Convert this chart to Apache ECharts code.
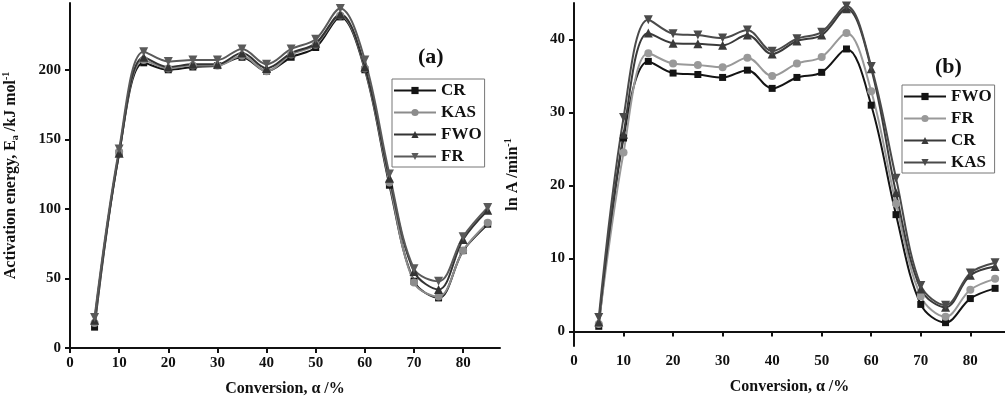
<!DOCTYPE html>
<html>
<head>
<meta charset="utf-8">
<script src="https://cdn.jsdelivr.net/npm/echarts@6/dist/echarts.min.js"></script>
<style>
  * { margin: 0; padding: 0; }
  body { background: #fff; }
  #chart { width: 1005px; height: 402px; }
</style>
</head>
<body>
<div id="chart"></div>
<script>
// conversion (%)
const conversion = [5, 10, 15, 20, 25, 30, 35, 40, 45, 50, 55, 60, 65, 70, 75, 80, 85];

// (a) activation energy, kJ/mol
const eaCR  = [15, 140, 205, 200, 202, 203, 209, 199, 209, 216, 238, 200, 117, 48, 36, 70, 89];
const eaKAS = [18, 141, 207, 201, 203, 203, 210, 199, 211, 218, 239, 201, 119, 47, 37, 70, 90];
const eaFWO = [20, 140, 209, 202, 204, 204, 212, 201, 212, 219, 240, 202, 122, 55, 42, 78, 99];
const eaFR  = [22, 143, 213, 206, 207, 207, 215, 204, 215, 222, 244, 207, 125, 57, 48, 80, 101];

// (b) ln A, min^-1
const lnFWO = [0.7, 26.5, 37.0, 35.4, 35.2, 34.8, 35.8, 33.3, 34.8, 35.5, 38.7, 31.0, 16.0, 3.7, 1.2, 4.5, 5.9];
const lnFR  = [1.0, 24.5, 38.1, 36.7, 36.5, 36.2, 37.5, 35.0, 36.7, 37.6, 40.9, 32.9, 17.5, 4.8, 2.0, 5.7, 7.2];
const lnCR  = [1.3, 27.0, 40.9, 39.5, 39.4, 39.2, 40.6, 38.0, 39.8, 40.6, 44.2, 36.0, 19.0, 5.8, 3.3, 7.7, 8.9];
const lnKAS = [1.9, 29.3, 42.7, 40.8, 40.6, 40.2, 41.3, 38.4, 40.1, 41.0, 44.6, 36.3, 21.0, 6.3, 3.6, 8.0, 9.4];

const xTicks = [0, 10, 20, 30, 40, 50, 60, 70, 80];
const eaTicks = [0, 50, 100, 150, 200];
const lnTicks = [0, 10, 20, 30, 40];

const FONT = 'Liberation Serif';
const INK = '#111';

const pairs = (ys) => conversion.map((x, i) => [x, ys[i]]);

const mkSeries = (name, ys, color, symbol, rotate, size, axis) => ({
    name: name,
    type: 'line',
    data: pairs(ys),
    xAxisIndex: axis,
    yAxisIndex: axis,
    smooth: 0.35,
    symbol: symbol,
    symbolRotate: rotate,
    symbolSize: size,
    lineStyle: { color: color, width: 2 },
    itemStyle: { color: color },
    emphasis: { disabled: true },
    z: 3
});

const axisBase = {
    axisLine: { show: true, lineStyle: { color: INK, width: 2 } },
    splitLine: { show: false },
    axisTick: { show: true, length: 5, lineStyle: { color: INK, width: 2 } },
    axisLabel: { color: INK, fontFamily: FONT, fontWeight: 'bold', fontSize: 15 },
    nameTextStyle: { color: INK, fontFamily: FONT, fontWeight: 'bold', fontSize: 16 }
};

const xAxisFor = (idx, max) => ({
    ...axisBase,
    type: 'value',
    gridIndex: idx,
    min: 0,
    max: max,
    name: 'Conversion, α /%',
    nameLocation: 'middle',
    nameGap: 33,
    axisTick: { ...axisBase.axisTick, customValues: xTicks },
    axisLabel: { ...axisBase.axisLabel, margin: 8, customValues: xTicks }
});

const richName = {
    sub: { fontFamily: FONT, fontWeight: 'bold', fontSize: 10, color: INK, padding: [9, 0, 0, 0] },
    sup: { fontFamily: FONT, fontWeight: 'bold', fontSize: 10, color: INK, padding: [0, 0, 9, 0] }
};

const legendText = { fontFamily: FONT, fontWeight: 'bold', fontSize: 17, color: INK, lineHeight: 19 };

const legendBase = {
    orient: 'vertical',
    itemWidth: 42, itemHeight: 9, itemGap: 3,
    padding: [2, 3, 1, 1],
    borderColor: '#777', borderWidth: 1,
    textStyle: legendText,
    selectedMode: false
};

const chart = echarts.init(document.getElementById('chart'));
const option = {
    backgroundColor: '#ffffff',
    animation: false,
    title: [
        { text: '(a)', left: 418, top: 46, padding: 0,
          textStyle: { fontFamily: FONT, fontWeight: 'bold', fontSize: 22, color: INK } },
        { text: '(b)', left: 935, top: 56, padding: 0,
          textStyle: { fontFamily: FONT, fontWeight: 'bold', fontSize: 22, color: INK } }
    ],
    legend: [
        {
            ...legendBase,
            data: ['CR', 'KAS', 'FWO', 'FR'],
            left: 392, top: 79
        },
        {
            ...legendBase,
            data: ['FWO (b)', 'FR (b)', 'CR (b)', 'KAS (b)'],
            left: 902, top: 85,
            formatter: (name) => name.replace(' (b)', '')
        }
    ],
    grid: [
        { left: 69, top: 3, width: 431, height: 346 },
        { left: 574, top: 3, width: 431, height: 343 }
    ],
    xAxis: [xAxisFor(0, 87.5), xAxisFor(1, 87)],
    yAxis: [
        {
            ...axisBase,
            type: 'value',
            gridIndex: 0,
            min: 0,
            max: 248,
            name: 'Activation energy, E{sub|a} /kJ mol{sup|-1}',
            nameLocation: 'middle',
            nameGap: 50,
            nameTextStyle: { ...axisBase.nameTextStyle, rich: richName },
            axisTick: { ...axisBase.axisTick, customValues: eaTicks },
            axisLabel: { ...axisBase.axisLabel, margin: 9, customValues: eaTicks }
        },
        {
            ...axisBase,
            type: 'value',
            gridIndex: 1,
            min: -2,
            max: 45,
            name: 'ln A /min{sup|-1}',
            nameLocation: 'middle',
            nameGap: 52,
            nameTextStyle: { ...axisBase.nameTextStyle, rich: richName },
            axisTick: { ...axisBase.axisTick, customValues: lnTicks },
            axisLabel: { ...axisBase.axisLabel, margin: 9, customValues: lnTicks }
        }
    ],
    series: [
        mkSeries('CR', eaCR, '#141414', 'rect', 0, 7, 0),
        mkSeries('KAS', eaKAS, '#8c8c8c', 'circle', 0, 8, 0),
        mkSeries('FWO', eaFWO, '#333333', 'triangle', 0, 9, 0),
        mkSeries('FR', eaFR, '#5a5a5a', 'triangle', 180, 9, 0),

        mkSeries('FWO (b)', lnFWO, '#141414', 'rect', 0, 7, 1),
        mkSeries('FR (b)', lnFR, '#999999', 'circle', 0, 8, 1),
        mkSeries('CR (b)', lnCR, '#3a3a3a', 'triangle', 0, 9, 1),
        mkSeries('KAS (b)', lnKAS, '#4a4a4a', 'triangle', 180, 9, 1)
    ]
};
chart.setOption(option);
</script>
</body>
</html>
